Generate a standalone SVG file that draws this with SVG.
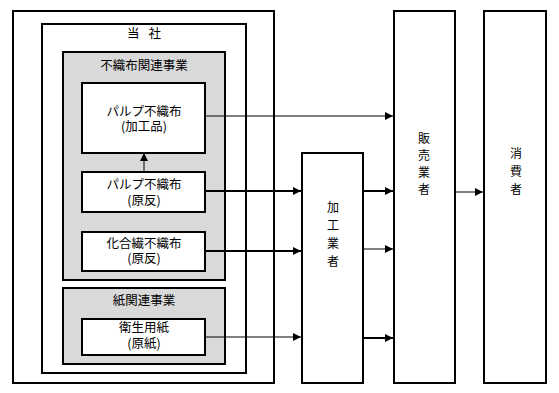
<svg xmlns="http://www.w3.org/2000/svg" width="559" height="393" viewBox="0 0 559 393">
<defs>
<style>
.box{fill:#fff;stroke:#000;stroke-width:2}
.grp{fill:#d9d9d9;stroke:#000;stroke-width:2}
text{font-family:"Noto Sans CJK JP","Noto Sans CJK SC",sans-serif;font-size:12.5px;fill:#000;text-anchor:middle}
.v{writing-mode:vertical-rl;font-size:12px;letter-spacing:6px}
.thin{stroke:#000;stroke-width:1;fill:none}
.thick{stroke:#000;stroke-width:2;fill:none}
</style>
<marker id="ah" viewBox="0 0 10 10" refX="10" refY="5" markerWidth="10" markerHeight="8" markerUnits="userSpaceOnUse" orient="auto"><path d="M0,0 L10,5 L0,10 Z" fill="#000"/></marker>
</defs>
<g id="outer"><rect class="box" x="13" y="11" width="261" height="372"/></g>
<g id="tousha"><rect class="box" x="42" y="24" width="204" height="349"/><text x="144" y="38" font-size="14" word-spacing="6">当 社</text></g>
<g id="fushokufu-group"><rect class="grp" x="63" y="52" width="162" height="228"/><text x="144" y="70">不織布関連事業</text></g>
<g id="pulp-kakouhin"><rect class="box" x="82" y="83" width="123" height="70"/><text x="144" y="116">パルプ不織布<tspan x="144" dy="15">(加工品)</tspan></text></g>
<g id="pulp-genhan"><rect class="box" x="82" y="172" width="123" height="40"/><text x="144" y="189">パルプ不織布<tspan x="144" dy="16">(原反)</tspan></text></g>
<g id="kagousen-genhan"><rect class="box" x="82" y="232" width="123" height="39"/><text x="144" y="248">化合繊不織布<tspan x="144" dy="15">(原反)</tspan></text></g>
<g id="kami-group"><rect class="grp" x="63" y="288" width="162" height="76"/><text x="144" y="305">紙関連事業</text></g>
<g id="eisei-genshi"><rect class="box" x="82" y="319" width="123" height="36"/><text x="144" y="332">衛生用紙<tspan x="144" dy="16">(原紙)</tspan></text></g>
<g id="kakougyousha"><rect class="box" x="302" y="153" width="61" height="230"/><text class="v" x="333" y="237" text-anchor="start">加工業者</text></g>
<g id="hanbaigyousha"><rect class="box" x="394" y="11" width="61" height="372"/><text class="v" x="424" y="166" text-anchor="start" style="letter-spacing:5px">販売業者</text></g>
<g id="shouhisha"><rect class="box" x="484" y="11" width="62" height="372"/><text class="v" x="516" y="174" text-anchor="start">消費者</text></g>
<g id="connectors">
<line class="thin" x1="144" y1="172" x2="144" y2="153" marker-end="url(#ah)"/>
<line class="thin" x1="205" y1="116" x2="393" y2="116" marker-end="url(#ah)"/>
<line class="thick" x1="205" y1="191" x2="301" y2="191" marker-end="url(#ah)"/>
<line class="thick" x1="363" y1="191" x2="393" y2="191" marker-end="url(#ah)"/>
<line class="thick" x1="205" y1="251" x2="301" y2="251" marker-end="url(#ah)"/>
<line class="thin" x1="363" y1="249" x2="393" y2="249" marker-end="url(#ah)"/>
<line class="thin" x1="205" y1="337" x2="301" y2="337" marker-end="url(#ah)"/>
<line class="thick" x1="363" y1="338" x2="393" y2="338" marker-end="url(#ah)"/>
<line class="thin" x1="455" y1="192" x2="483" y2="192" marker-end="url(#ah)"/>
</g>
</svg>
